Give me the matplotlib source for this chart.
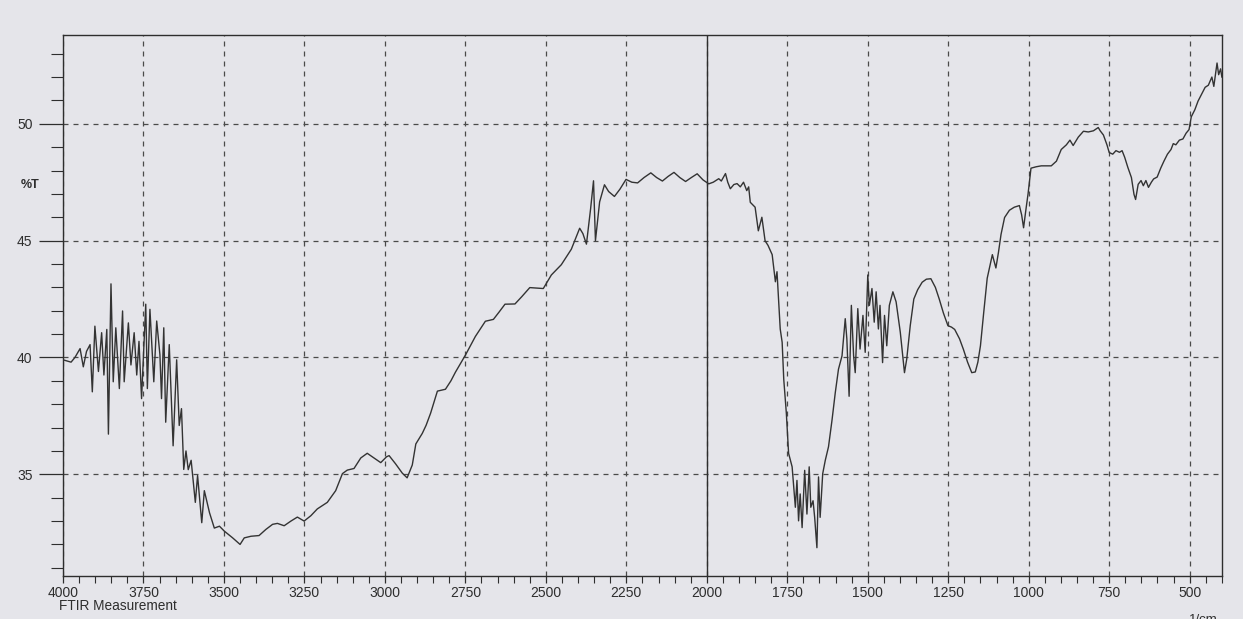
import matplotlib
matplotlib.use("Agg")
import matplotlib.pyplot as plt
from matplotlib.ticker import FixedLocator, MultipleLocator
from matplotlib.transforms import blended_transform_factory

plt.rcParams['font.family'] = ['Liberation Sans', 'DejaVu Sans']

# FTIR trace, wavenumber (1/cm) against transmittance (%T)
wavenumber = [
    4000, 3990, 3975, 3963, 3947, 3937, 3927, 3916, 3909, 3901, 3890, 3880,
    3873, 3864, 3859, 3851, 3844, 3836, 3825, 3815, 3810, 3797, 3789, 3779,
    3771, 3764, 3756, 3743, 3738, 3730, 3718, 3709, 3699, 3694, 3687, 3681,
    3670, 3658, 3647, 3639, 3632, 3625, 3618, 3611, 3602, 3589, 3582, 3569,
    3561, 3545, 3530, 3514, 3499, 3473, 3450,
    3437, 3416, 3391, 3370, 3349, 3334, 3313, 3292, 3272, 3251, 3230, 3210,
    3179, 3153, 3132, 3117, 3096, 3075, 3055, 3034, 3013, 2995, 2987, 2967,
    2946, 2931,
    2915, 2904, 2884, 2872, 2858, 2837, 2812, 2795, 2781, 2750, 2719, 2688,
    2663, 2645, 2627, 2596, 2575, 2550, 2508, 2483, 2452, 2421,
    2395, 2385, 2374, 2361, 2352, 2346, 2333, 2318, 2305, 2287, 2270, 2251,
    2233, 2215, 2195, 2174, 2156, 2138, 2120, 2102, 2084, 2066, 2048, 2030,
    2012, 1994, 1980, 1963, 1955, 1942, 1935, 1927, 1916, 1906, 1896, 1886,
    1876, 1870, 1865, 1850, 1840, 1829, 1819, 1810, 1797, 1787, 1782, 1772,
    1766, 1761, 1753, 1746,
    1735, 1730, 1725, 1720, 1715, 1710, 1704, 1696, 1689, 1682, 1677, 1670,
    1665, 1658, 1653, 1648, 1640, 1632, 1622, 1611, 1601, 1591, 1580, 1570,
    1565, 1558, 1551, 1544, 1539, 1531, 1524, 1515, 1508, 1500, 1495, 1487,
    1480, 1474, 1467, 1462, 1454, 1448, 1441, 1433, 1422, 1412, 1399, 1386,
    1379, 1368,
    1357, 1345, 1331, 1318, 1304, 1290, 1278, 1265, 1251, 1240, 1230, 1215,
    1203, 1190, 1177, 1166, 1158, 1150, 1140, 1129, 1113, 1102, 1094, 1086,
    1075, 1060, 1045, 1029, 1022, 1016, 1009, 1002,
    993, 977, 961, 930, 914, 899, 883, 872, 862, 846, 830, 815, 799, 784,
    778, 768, 757, 750, 739, 729, 718, 710, 702, 692, 681, 673, 668, 660,
    651, 644, 636, 628, 619, 612, 601, 590, 580, 569, 558, 551, 543, 532,
    521, 511, 502, 495, 484, 474, 463, 452, 442, 431, 425, 415, 410, 404, 400,
]
transmittance = [
    39.9, 39.86, 39.8, 40.0, 40.38, 39.6, 40.26, 40.55, 38.53, 41.34, 39.4, 41.06,
    39.25, 41.2, 36.72, 43.15, 38.96, 41.27, 38.67, 41.99, 38.96, 41.48, 39.68, 41.06,
    39.25, 40.69, 38.24, 42.28, 38.67, 42.06, 38.96, 41.56, 40.12, 38.24, 41.27, 37.23,
    40.55, 36.22, 39.9, 37.09, 37.81, 35.21, 36.0, 35.2, 35.6, 33.8, 34.95, 32.93,
    34.3, 33.36, 32.7, 32.78, 32.57, 32.28, 32.0,
    32.28, 32.35, 32.38, 32.64, 32.86, 32.9, 32.8, 33.0, 33.17, 33.0, 33.23, 33.52,
    33.8, 34.3, 35.03, 35.18, 35.25, 35.7, 35.9, 35.7, 35.5, 35.75, 35.8, 35.45,
    35.05, 34.85,
    35.4, 36.3, 36.75, 37.1, 37.62, 38.56, 38.64, 39.0, 39.37, 40.1, 40.9, 41.55,
    41.63, 41.95, 42.28, 42.29, 42.6, 42.99, 42.95, 43.53, 43.97, 44.63,
    45.53, 45.3, 44.85, 46.37, 47.56, 45.0, 46.66, 47.39, 47.1, 46.89, 47.2, 47.62,
    47.5, 47.47, 47.7, 47.9, 47.7, 47.55, 47.75, 47.92, 47.7, 47.53, 47.7, 47.86,
    47.6, 47.43, 47.5, 47.65, 47.55, 47.87, 47.5, 47.22, 47.4, 47.44, 47.3, 47.5,
    47.14, 47.3, 46.64, 46.43, 45.42, 46.0, 44.99, 44.8, 44.4, 43.24, 43.67, 41.22,
    40.65, 39.06, 37.62, 35.9,
    35.32, 34.45, 33.59, 34.74, 33.01, 34.16, 32.72, 35.17, 33.3, 35.32, 33.59, 33.87,
    33.16, 31.86, 34.89, 33.16, 35.03, 35.6, 36.18, 37.33, 38.49, 39.5, 40.07, 41.66,
    40.79, 38.34, 42.23, 40.07, 39.35, 42.09, 40.36, 41.8, 40.22, 43.53, 42.23, 42.95,
    41.51, 42.81, 41.22, 42.23, 39.78, 41.8, 40.5, 42.23, 42.81, 42.38, 41.08, 39.35,
    39.93, 41.37,
    42.5, 42.9, 43.22, 43.35, 43.37, 43.0, 42.5, 41.9, 41.36, 41.3, 41.2, 40.8,
    40.35, 39.8, 39.35, 39.38, 39.8, 40.5, 41.9, 43.39, 44.4, 43.83, 44.5, 45.27,
    45.99, 46.3, 46.43, 46.5, 46.1, 45.55, 46.3, 47.01,
    48.1, 48.16, 48.2, 48.2, 48.4, 48.9, 49.1, 49.3, 49.07, 49.43, 49.68, 49.65, 49.7, 49.84,
    49.7, 49.52, 49.1, 48.77, 48.7, 48.85, 48.78, 48.85, 48.57, 48.13, 47.7, 46.98, 46.76, 47.41,
    47.57, 47.35, 47.57, 47.28, 47.5, 47.64, 47.72, 48.1, 48.4, 48.7, 48.9, 49.15, 49.1, 49.3,
    49.35, 49.6, 49.75, 50.3, 50.6, 50.97, 51.27, 51.56, 51.65, 52.0, 51.6, 52.6, 52.1, 52.35, 52.0,
]

x_major = [4000, 3750, 3500, 3250, 3000, 2750, 2500, 2250, 2000,
           1750, 1500, 1250, 1000, 750, 500]
y_major = [35, 40, 45, 50]

paper = '#e5e5ea'
ink = '#2e2e2e'

fig = plt.figure(figsize=(12.43, 6.19), dpi=100, facecolor=paper)
ax = fig.add_axes([0.0507, 0.0695, 0.9323, 0.874])
ax.set_facecolor(paper)

ax.plot(wavenumber, transmittance, color='#333333', lw=1.0, zorder=3)

ax.set_xlim(4000, 400)
ax.set_ylim(30.65, 53.8)

ax.xaxis.set_major_locator(FixedLocator(x_major))
ax.xaxis.set_minor_locator(MultipleLocator(50))
ax.yaxis.set_major_locator(FixedLocator(y_major))
ax.yaxis.set_minor_locator(MultipleLocator(1))

ax.tick_params(axis='both', which='major', labelsize=10, colors=ink, width=0.9)
ax.tick_params(axis='x', which='major', length=5, pad=2, direction='out')
ax.tick_params(axis='x', which='minor', length=5, width=0.8, color=ink, direction='out')
ax.tick_params(axis='y', which='major', length=17, pad=5, direction='out')
ax.tick_params(axis='y', which='minor', length=9, width=0.8, color=ink, direction='out')

for s in ax.spines.values():
    s.set_color(ink)
    s.set_linewidth(1.0)

ax.grid(which='major', color='#4a4a4a', lw=0.9, ls=(0, (4, 4)))
ax.axvline(2000, color=ink, lw=1.0, zorder=2)

# axis annotations in the style of the instrument printout
trans = blended_transform_factory(ax.transAxes, ax.transData)
ax.text(-0.0207, 47.4, '%T', transform=trans, ha='right', va='center',
        fontsize=9, fontweight='bold', color=ink)
fig.text(59 / 1243, 1 - 606 / 619, 'FTIR Measurement', ha='left', va='center',
         fontsize=9.8, color=ink)
fig.text(1218 / 1243, 1 - 620 / 619, '1/cm', ha='right', va='center',
         fontsize=9.5, color=ink)

fig.savefig('out.png', dpi=100, facecolor=paper)
